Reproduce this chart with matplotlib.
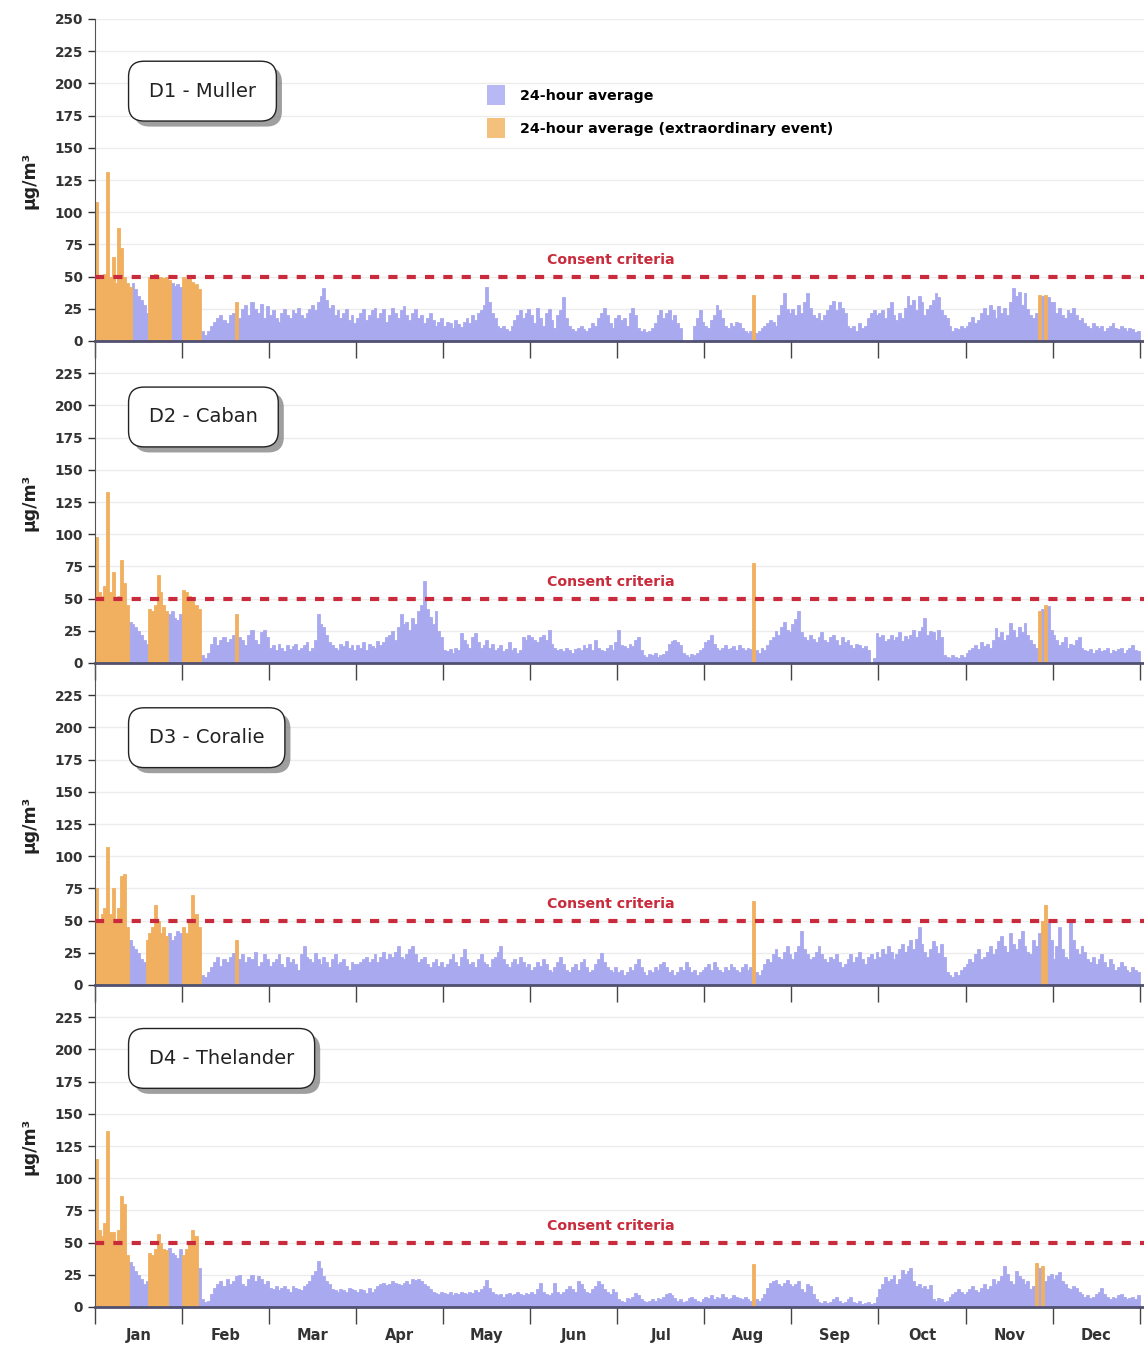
import numpy as np
import matplotlib
matplotlib.use("Agg")
import matplotlib.pyplot as plt
from matplotlib import patheffects
from matplotlib.patches import Patch

plt.rcParams['font.family'] = ['DejaVu Sans']

months = ['Jan', 'Feb', 'Mar', 'Apr', 'May', 'Jun', 'Jul', 'Aug', 'Sep', 'Oct', 'Nov', 'Dec']
days_in_month = [31, 28, 31, 30, 31, 30, 31, 31, 30, 31, 30, 31]
criteria = 50

# daily 24-hour averages (µg/m3), one row per month
d1_muller = [
    108, 50, 48, 52, 131, 50, 65, 45, 88, 72, 50, 45, 42, 45, 40, 35, 32, 28, 22, 50, 48, 52, 50, 50, 49, 50, 47, 45, 43, 44, 42,
    50, 48, 50, 46, 44, 40, 8, 5, 8, 12, 15, 18, 20, 16, 14, 20, 22, 30, 18, 25, 28, 20, 30, 25, 22, 29, 18, 27,
    20, 24, 18, 15, 22, 25, 20, 18, 24, 22, 26, 20, 18, 22, 25, 28, 24, 30, 35, 41, 32, 26, 28, 20, 24, 18, 22, 25, 16, 20, 14,
    18, 22, 25, 16, 20, 24, 26, 18, 22, 25, 15, 20, 26, 22, 18, 24, 27, 20, 16, 22, 25, 18, 20, 14, 18, 22, 16, 12, 15, 18,
    12, 15, 14, 10, 16, 13, 11, 15, 18, 14, 20, 16, 22, 24, 28, 42, 30, 22, 18, 12, 10, 12, 9, 8, 12, 16, 20, 24, 18, 22, 25,
    20, 14, 26, 18, 12, 22, 25, 16, 10, 20, 24, 34, 18, 12, 9, 8, 10, 12, 9, 8, 10, 14, 12, 18, 22, 26, 20, 14, 10, 18,
    20, 16, 18, 12, 22, 26, 20, 10, 8, 9, 7, 8, 10, 14, 20, 24, 18, 22, 24, 16, 20, 14, 10, 0, 0, 0, 0, 12, 18, 24, 15,
    12, 10, 16, 20, 28, 24, 18, 12, 10, 14, 12, 15, 14, 10, 8, 6, 8, 36, 6, 8, 10, 12, 14, 16, 15, 12, 20, 28, 37, 25, 22,
    25, 20, 28, 22, 30, 37, 26, 20, 18, 22, 16, 20, 24, 28, 31, 24, 30, 26, 22, 12, 10, 12, 8, 14, 10, 12, 18, 22, 24, 20,
    22, 24, 18, 26, 30, 20, 16, 22, 18, 26, 35, 28, 32, 24, 35, 30, 20, 25, 28, 32, 37, 34, 24, 20, 18, 12, 8, 10, 9, 12, 10,
    12, 15, 19, 14, 16, 22, 26, 20, 28, 24, 18, 27, 22, 26, 20, 30, 41, 35, 38, 28, 37, 25, 20, 18, 22, 36, 35, 36, 34, 30,
    30, 22, 26, 20, 18, 24, 22, 26, 20, 16, 18, 14, 12, 10, 14, 12, 10, 12, 8, 10, 12, 14, 10, 9, 12, 10, 8, 10, 9, 7, 8,
]
d2_caban = [
    98, 55, 52, 60, 133, 55, 71, 50, 52, 80, 62, 45, 32, 30, 28, 25, 22, 18, 15, 42, 40, 45, 68, 55, 45, 40, 38, 40, 35, 33, 38,
    57, 55, 52, 48, 45, 42, 6, 4, 8, 15, 20, 14, 18, 20, 16, 19, 22, 38, 20, 18, 14, 22, 26, 18, 15, 24, 26, 20,
    12, 14, 10, 15, 12, 9, 14, 11, 13, 15, 10, 12, 14, 16, 9, 12, 18, 38, 30, 28, 22, 16, 14, 12, 10, 15, 13, 17, 12, 14, 10,
    14, 12, 16, 10, 15, 13, 12, 17, 14, 16, 20, 22, 25, 18, 28, 38, 30, 32, 26, 35, 30, 40, 45, 64, 42, 36, 30, 40, 25, 20,
    10, 9, 11, 8, 12, 10, 23, 18, 15, 12, 20, 23, 16, 12, 14, 18, 12, 15, 10, 12, 14, 9, 11, 16, 10, 12, 8, 10, 20, 18, 22,
    20, 18, 16, 20, 22, 18, 26, 15, 12, 10, 11, 9, 12, 10, 8, 11, 12, 10, 14, 12, 15, 10, 18, 12, 10, 9, 12, 14, 10, 16,
    26, 14, 13, 12, 15, 13, 18, 20, 10, 6, 5, 7, 6, 8, 5, 6, 7, 9, 15, 17, 18, 16, 14, 8, 6, 5, 7, 6, 8, 10, 12,
    16, 18, 22, 15, 12, 10, 12, 14, 11, 12, 13, 10, 14, 12, 10, 12, 11, 78, 10, 8, 12, 10, 14, 18, 20, 25, 22, 28, 32, 26, 24,
    30, 34, 40, 24, 20, 18, 22, 19, 16, 20, 24, 18, 16, 20, 22, 18, 14, 20, 16, 18, 14, 12, 15, 14, 12, 13, 10, 0, 4, 23,
    20, 22, 17, 19, 22, 18, 20, 24, 17, 21, 19, 22, 26, 20, 25, 28, 35, 22, 25, 24, 18, 26, 20, 6, 5, 4, 6, 5, 4, 6, 5,
    8, 10, 12, 14, 11, 16, 13, 15, 12, 18, 27, 20, 24, 18, 22, 31, 26, 20, 28, 24, 31, 22, 18, 15, 12, 40, 42, 45, 44, 26,
    22, 18, 14, 16, 20, 12, 15, 14, 18, 20, 12, 10, 9, 11, 8, 10, 12, 9, 10, 12, 8, 10, 9, 11, 12, 8, 10, 12, 14, 10, 9,
]
d3_coralie = [
    75, 50, 55, 60, 107, 55, 75, 50, 60, 85, 86, 45, 35, 30, 28, 25, 20, 18, 35, 40, 45, 62, 50, 40, 45, 38, 40, 35, 38, 42, 40,
    45, 40, 50, 70, 55, 45, 8, 6, 10, 14, 18, 22, 15, 20, 18, 22, 25, 35, 20, 24, 18, 22, 20, 26, 15, 18, 24, 20,
    15, 18, 20, 24, 16, 14, 22, 18, 20, 16, 12, 24, 30, 22, 20, 18, 25, 20, 16, 22, 18, 14, 20, 24, 16, 18, 20, 15, 12, 18, 16,
    16, 18, 20, 22, 18, 20, 24, 18, 22, 26, 20, 24, 22, 26, 30, 22, 20, 24, 28, 30, 24, 18, 20, 22, 16, 14, 18, 20, 15, 18,
    14, 16, 20, 24, 18, 15, 22, 28, 20, 16, 18, 14, 20, 24, 18, 16, 14, 20, 22, 26, 30, 20, 16, 14, 18, 20, 16, 22, 18, 14, 16,
    12, 14, 18, 15, 20, 16, 12, 10, 14, 18, 22, 16, 12, 10, 14, 16, 12, 18, 20, 14, 10, 12, 16, 20, 25, 18, 14, 12, 10, 14,
    10, 12, 8, 10, 14, 12, 16, 20, 14, 10, 8, 12, 10, 14, 12, 16, 18, 14, 10, 12, 8, 10, 14, 12, 18, 14, 10, 12, 8, 10, 12,
    14, 16, 12, 18, 14, 12, 10, 14, 12, 16, 14, 12, 10, 14, 16, 12, 14, 65, 10, 8, 12, 16, 20, 18, 24, 28, 22, 20, 26, 30, 24,
    20, 26, 30, 42, 28, 24, 20, 22, 26, 30, 24, 20, 18, 22, 20, 24, 18, 14, 16, 20, 24, 18, 22, 26, 20, 16, 22, 24, 20, 26,
    22, 28, 24, 30, 26, 20, 24, 28, 32, 26, 30, 35, 28, 36, 45, 32, 26, 22, 28, 34, 30, 25, 32, 22, 10, 8, 6, 10, 8, 12, 14,
    16, 20, 18, 24, 28, 20, 22, 26, 30, 24, 28, 34, 38, 30, 26, 40, 32, 28, 36, 42, 30, 26, 24, 35, 30, 40, 50, 62, 48, 35,
    20, 30, 45, 28, 22, 20, 50, 35, 28, 24, 30, 26, 20, 18, 22, 16, 20, 24, 18, 14, 20, 16, 12, 14, 18, 15, 12, 10, 14, 12, 10,
]
d4_thelander = [
    115, 60, 55, 65, 137, 58, 58, 50, 60, 86, 80, 40, 35, 32, 28, 25, 22, 18, 20, 42, 40, 45, 57, 50, 45, 44, 46, 42, 40, 38, 45,
    40, 45, 50, 60, 55, 30, 6, 4, 5, 10, 15, 18, 20, 16, 22, 18, 20, 24, 25, 18, 16, 22, 25, 20, 24, 22, 18, 20,
    15, 14, 16, 13, 15, 16, 14, 12, 16, 15, 14, 13, 16, 18, 20, 25, 28, 36, 30, 24, 20, 18, 14, 13, 12, 14, 13, 12, 15, 14, 13,
    12, 14, 13, 11, 15, 12, 14, 16, 18, 19, 17, 18, 20, 19, 18, 17, 19, 20, 18, 22, 21, 22, 20, 18, 16, 14, 12, 11, 10, 12,
    11, 10, 12, 9, 11, 10, 12, 11, 10, 12, 11, 13, 12, 14, 16, 21, 15, 12, 10, 9, 10, 8, 10, 11, 9, 10, 12, 10, 9, 11, 10,
    12, 10, 14, 19, 12, 10, 9, 11, 19, 12, 10, 12, 14, 16, 14, 12, 20, 18, 14, 12, 11, 14, 16, 20, 18, 14, 12, 10, 14, 12,
    6, 5, 4, 7, 6, 8, 11, 9, 6, 5, 4, 5, 6, 5, 7, 6, 8, 10, 11, 9, 7, 5, 6, 4, 5, 7, 8, 6, 5, 4, 6,
    8, 7, 9, 6, 8, 7, 10, 8, 6, 7, 9, 8, 7, 6, 8, 6, 5, 33, 6, 5, 7, 10, 15, 19, 20, 21, 18, 16, 19, 21, 18,
    16, 18, 20, 14, 12, 18, 16, 10, 6, 4, 3, 5, 3, 4, 6, 8, 5, 3, 4, 6, 8, 4, 3, 5, 2, 3, 4, 2, 3, 8,
    14, 18, 23, 20, 22, 25, 18, 22, 29, 26, 28, 30, 20, 16, 18, 15, 16, 14, 17, 6, 5, 7, 6, 4, 5, 8, 10, 12, 14, 12, 10,
    12, 14, 16, 13, 12, 15, 18, 14, 16, 22, 18, 20, 24, 32, 26, 20, 18, 28, 24, 22, 18, 20, 14, 16, 34, 30, 32, 20, 24, 26,
    22, 25, 27, 20, 18, 15, 14, 16, 15, 12, 10, 8, 9, 7, 8, 10, 12, 15, 10, 8, 6, 8, 7, 9, 10, 8, 6, 7, 8, 6, 9,
]

# day-of-year indices flagged as extraordinary events
d1_events = list(range(0, 13)) + list(range(19, 27)) + list(range(31, 37)) + [48, 229, 329, 331]
d2_events = list(range(0, 12)) + list(range(19, 26)) + list(range(31, 37)) + [48, 229, 329, 331]
d3_events = list(range(0, 12)) + list(range(18, 26)) + list(range(31, 37)) + [48, 229, 330, 331]
d4_events = list(range(0, 12)) + list(range(19, 26)) + list(range(31, 36)) + [229, 328, 330]

stations = ['D1 - Muller', 'D2 - Caban', 'D3 - Coralie', 'D4 - Thelander']
series = [d1_muller, d2_caban, d3_coralie, d4_thelander]
events = [d1_events, d2_events, d3_events, d4_events]
label_y = [194, 191, 192, 193]

purple = '#a9a9f0'
orange = '#f0b060'
red = '#c92b3c'

# each month gets the same width on the axis, days split it evenly
x_left = []
widths = []
for m, n in enumerate(days_in_month):
    for d in range(n):
        x_left.append(m + d / n)
        widths.append(1.0 / n)
x_left = np.array(x_left)
widths = np.array(widths)

W, H = 1144, 1347
fig, axes = plt.subplots(4, 1, figsize=(W / 100, H / 100), dpi=100, sharex=True)
fig.subplots_adjust(left=95 / W, right=1.0, top=1 - 19 / H, bottom=1 - 1307 / H, hspace=0)

for i, ax in enumerate(axes):
    vals = np.array(series[i], dtype=float)
    is_event = np.zeros(len(vals), dtype=bool)
    is_event[events[i]] = True

    ax.patch.set_visible(False)
    ax.bar(x_left[~is_event], vals[~is_event], width=widths[~is_event], align='edge',
           color=purple, edgecolor=purple, linewidth=0.6, zorder=2)
    ax.bar(x_left[is_event], vals[is_event], width=widths[is_event], align='edge',
           color=orange, edgecolor=orange, linewidth=0.6, zorder=2)

    ax.axhline(criteria, color=red, linestyle=(0, (2.2, 2.2)), linewidth=3, zorder=3)
    ax.text(5.92, 63, 'Consent criteria', color=red, fontsize=10.2, fontweight='bold',
            ha='center', va='center', zorder=4)

    t = ax.text(0.62, label_y[i], stations[i], fontsize=14, ha='left', va='center', zorder=5,
                color='#222222',
                bbox=dict(boxstyle='round,pad=1.05,rounding_size=0.8', fc='white', ec='#222222', lw=1))
    t.get_bbox_patch().set_path_effects([
        patheffects.withSimplePatchShadow(offset=(4, -4), shadow_rgbFace='#777777', alpha=0.7)])

    ax.set_ylim(0, 250)
    ax.set_xlim(0, 12.05)
    top = 250 if i == 0 else 225
    ax.set_yticks(np.arange(0, top + 1, 25))
    ax.yaxis.grid(True, color='#ececec', linewidth=1, zorder=0)
    ax.set_axisbelow(True)
    for lab in ax.get_yticklabels():
        lab.set_fontweight('bold')
    ax.tick_params(axis='y', labelsize=9.8, colors='#333333', length=5, width=1, direction='out')

    ax.set_ylabel('μg/m³', fontsize=12.5, fontweight='bold', color='#222222')
    ax.yaxis.set_label_coords(-0.054, 0.5)

    ax.spines['top'].set_visible(False)
    ax.spines['right'].set_visible(False)
    ax.spines['left'].set_color('#555555')
    ax.spines['bottom'].set_color('#505070')
    ax.spines['bottom'].set_linewidth(2)
    ax.spines['bottom'].set_zorder(4)

    ax.set_xticks(np.arange(0, 13))
    ax.set_xticks(np.arange(12) + 0.5, minor=True)
    ax.tick_params(axis='x', which='major', length=12, width=1, color='#444444', labelbottom=False)
    ax.tick_params(axis='x', which='minor', length=0, labelsize=10.5, colors='#333333', pad=15)
    if i == 3:
        ax.set_xticklabels(months, minor=True, fontweight='bold')
    else:
        ax.tick_params(axis='x', which='minor', labelbottom=False)

handles = [Patch(facecolor='#b8b8f4', edgecolor='none'), Patch(facecolor='#f4c17d', edgecolor='none')]
axes[0].legend(handles, ['24-hour average', '24-hour average (extraordinary event)'],
               loc='upper left', bbox_to_anchor=(0.374, 0.796), frameon=False,
               prop={'weight': 'bold', 'size': 10.3}, handlelength=1.25, handleheight=1.85,
               handletextpad=1.0, labelspacing=0.85, borderpad=0, borderaxespad=0)

plt.savefig('out.png', dpi=100)
